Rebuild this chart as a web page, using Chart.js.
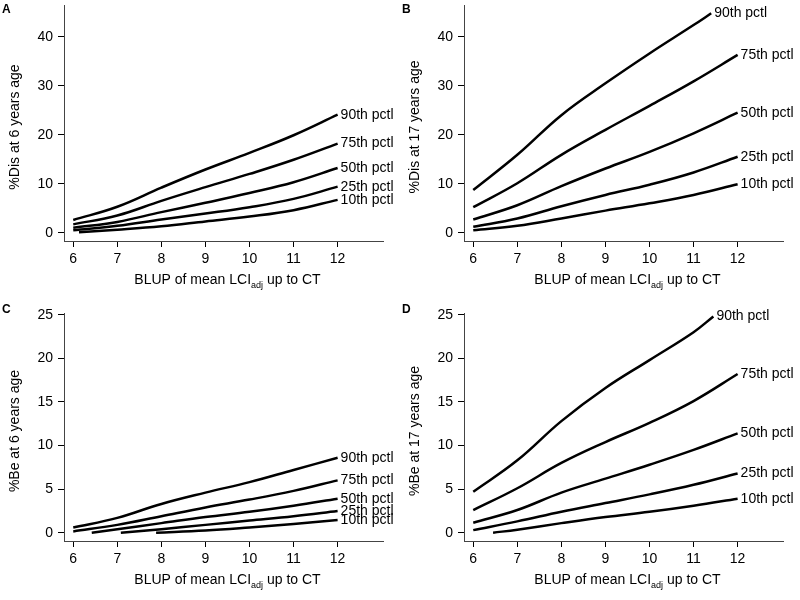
<!DOCTYPE html>
<html>
<head>
<meta charset="utf-8">
<script src="https://cdn.jsdelivr.net/npm/chart.js@4.4.1/dist/chart.umd.min.js"></script>
<style>
  html, body { margin: 0; padding: 0; background: #fff; }
  #wrap { position: relative; width: 800px; height: 600px; }
  #wrap canvas { position: absolute; }
</style>
</head>
<body>
<div id="wrap">
  <canvas id="chartA" width="400" height="300" style="left:0;top:0"></canvas>
  <canvas id="chartB" width="400" height="300" style="left:400px;top:0"></canvas>
  <canvas id="chartC" width="400" height="300" style="left:0;top:300px"></canvas>
  <canvas id="chartD" width="400" height="300" style="left:400px;top:300px"></canvas>
</div>
<script>
    // x positions (BLUP of mean LCI_adj)
    const xGrid = [6, 7, 8, 9, 10, 11, 12];
    const pctlLabels = ['90th pctl', '75th pctl', '50th pctl', '25th pctl', '10th pctl'];
    const xTicks = [6, 7, 8, 9, 10, 11, 12];
    const yTicksDis = [0, 10, 20, 30, 40];
    const yTicksBe = [0, 5, 10, 15, 20, 25];

    // A: %Dis at 6 years age
    const disAge6_p90 = [2.6, 5.3, 9.2, 12.9, 16.3, 19.9, 24.1];
    const disAge6_p75 = [1.7, 3.5, 6.5, 9.3, 12.0, 14.9, 18.2];
    const disAge6_p50 = [1.0, 2.2, 4.2, 6.1, 8.1, 10.3, 13.2];
    const disAge6_p25 = [0.5, 1.4, 2.7, 3.9, 5.2, 6.9, 9.4];
    const disAge6_p10_x = [6.13, 7, 8, 9, 10, 11, 12];
    const disAge6_p10 = [0.1, 0.6, 1.3, 2.3, 3.3, 4.6, 6.7];

    // B: %Dis at 17 years age
    const disAge17_p90_x = [6, 7, 8, 9, 10, 11, 11.4];
    const disAge17_p90 = [8.7, 15.9, 24.0, 30.5, 36.6, 42.4, 44.8];
    const disAge17_p75 = [5.2, 10.1, 15.9, 21.0, 25.9, 30.9, 36.3];
    const disAge17_p50 = [2.7, 5.6, 9.5, 13.1, 16.5, 20.3, 24.5];
    const disAge17_p25 = [1.2, 2.9, 5.4, 7.7, 9.8, 12.3, 15.5];
    const disAge17_p10 = [0.5, 1.4, 2.9, 4.5, 6.0, 7.7, 9.9];

    // C: %Be at 6 years age
    const beAge6_p90 = [0.6, 1.7, 3.3, 4.6, 5.8, 7.2, 8.6];
    const beAge6_p75 = [0.15, 0.9, 1.9, 2.9, 3.8, 4.8, 6.0];
    const beAge6_p50_x = [6.42, 7, 8, 9, 10, 11, 12];
    const beAge6_p50 = [0, 0.4, 1.1, 1.8, 2.4, 3.1, 3.9];
    const beAge6_p25_x = [7.08, 8, 9, 10, 11, 12];
    const beAge6_p25 = [0, 0.4, 0.9, 1.4, 1.9, 2.5];
    const beAge6_p10_x = [7.88, 9, 10, 11, 12];
    const beAge6_p10 = [0, 0.25, 0.6, 1.0, 1.45];

    // D: %Be at 17 years age
    const beAge17_p90_x = [6, 7, 8, 9, 10, 11, 11.45];
    const beAge17_p90 = [4.7, 8.3, 12.8, 16.6, 19.8, 23.0, 24.8];
    const beAge17_p75 = [2.6, 5.1, 8.0, 10.4, 12.6, 15.1, 18.2];
    const beAge17_p50 = [1.15, 2.6, 4.6, 6.2, 7.8, 9.5, 11.4];
    const beAge17_p25 = [0.3, 1.3, 2.4, 3.4, 4.4, 5.5, 6.8];
    const beAge17_p10_x = [6.45, 7, 8, 9, 10, 11, 12];
    const beAge17_p10 = [0, 0.35, 1.1, 1.8, 2.4, 3.1, 3.9];

    const FONT = "'Liberation Sans', Arial, Helvetica, sans-serif";

    function toPoints(xs, ys) {
        return ys.map((y, i) => ({ x: xs[i], y: y }));
    }

    // Draws panel letter, axis titles (with subscript) and percentile labels
    const annotatePlugin = {
        id: 'annotate',
        afterDraw(chart) {
            const ctx = chart.ctx;
            const area = chart.chartArea;
            const opts = chart.options.plugins.annotate;
            ctx.save();
            ctx.fillStyle = '#000';

            // panel letter
            ctx.font = 'bold 12px ' + FONT;
            ctx.textAlign = 'left';
            ctx.textBaseline = 'alphabetic';
            ctx.fillText(opts.letter, 2, 13);

            // percentile labels at line ends
            ctx.font = '14px ' + FONT;
            ctx.textBaseline = 'middle';
            chart.data.datasets.forEach((ds, i) => {
                const pts = chart.getDatasetMeta(i).data;
                const last = pts[pts.length - 1];
                ctx.fillText(ds.label, last.x + 3, last.y);
            });

            // x axis title with subscript
            const part1 = 'BLUP of mean LCI';
            const sub = 'adj';
            const part2 = ' up to CT';
            ctx.font = '14px ' + FONT;
            const w1 = ctx.measureText(part1).width;
            const w3 = ctx.measureText(part2).width;
            ctx.font = '9px ' + FONT;
            const w2 = ctx.measureText(sub).width;
            const total = w1 + w2 + w3;
            let x = (area.left + area.right) / 2 + 4 - total / 2;
            const base = 283.5;
            ctx.textBaseline = 'alphabetic';
            ctx.font = '14px ' + FONT;
            ctx.fillText(part1, x, base);
            ctx.font = '9px ' + FONT;
            ctx.fillText(sub, x + w1, base + 4);
            ctx.font = '14px ' + FONT;
            ctx.fillText(part2, x + w1 + w2, base);

            // y axis title, rotated
            ctx.translate(19, (area.top + area.bottom) / 2 + 4);
            ctx.rotate(-Math.PI / 2);
            ctx.textAlign = 'center';
            ctx.fillText(opts.yTitle, 0, 0);
            ctx.restore();
        }
    };

    function createPanel(canvasId, letter, yTitle, yMin, yMax, yTicks, topPad, series) {
        const ctx = document.getElementById(canvasId).getContext('2d');

        const datasets = series.map((s, i) => ({
            label: pctlLabels[i],
            data: toPoints(s.x, s.y),
            borderColor: '#000',
            borderWidth: 2.5,
            pointRadius: 0,
            fill: false,
            tension: 0.4
        }));

        const config = {
            type: 'line',
            data: { datasets: datasets },
            plugins: [annotatePlugin],
            options: {
                responsive: false,
                animation: false,
                devicePixelRatio: 1,
                layout: {
                    padding: { top: topPad, right: 17, left: 0, bottom: 0 }
                },
                scales: {
                    x: {
                        type: 'linear',
                        min: 5.79,
                        max: 13.03,
                        afterBuildTicks: (scale) => {
                            scale.ticks = xTicks.map(v => ({ value: v }));
                        },
                        afterFit: (scale) => {
                            scale.height = 59;
                            scale.paddingLeft = 0;
                            scale.paddingRight = 0;
                        },
                        grid: {
                            drawOnChartArea: false,
                            tickLength: 6,
                            color: '#000',
                            lineWidth: 1
                        },
                        border: { color: '#444', width: 1 },
                        ticks: {
                            color: '#000',
                            font: { family: FONT, size: 14 },
                            padding: 4,
                            maxRotation: 0,
                            callback: (value) => value
                        }
                    },
                    y: {
                        min: yMin,
                        max: yMax,
                        afterBuildTicks: (scale) => {
                            scale.ticks = yTicks.map(v => ({ value: v }));
                        },
                        afterFit: (scale) => {
                            scale.width = 64;
                            scale.paddingTop = 0;
                            scale.paddingBottom = 0;
                        },
                        grid: {
                            drawOnChartArea: false,
                            tickLength: 6,
                            color: '#000',
                            lineWidth: 1
                        },
                        border: { color: '#444', width: 1 },
                        ticks: {
                            color: '#000',
                            font: { family: FONT, size: 14 },
                            padding: 5,
                            callback: (value) => value
                        }
                    }
                },
                plugins: {
                    legend: { display: false },
                    tooltip: { enabled: false },
                    annotate: { letter: letter, yTitle: yTitle }
                }
            }
        };

        return new Chart(ctx, config);
    }

    createPanel('chartA', 'A', '%Dis at 6 years age', -1.7, 46.5, yTicksDis, 5, [
        { x: xGrid, y: disAge6_p90 },
        { x: xGrid, y: disAge6_p75 },
        { x: xGrid, y: disAge6_p50 },
        { x: xGrid, y: disAge6_p25 },
        { x: disAge6_p10_x, y: disAge6_p10 }
    ]);

    createPanel('chartB', 'B', '%Dis at 17 years age', -1.7, 46.5, yTicksDis, 5, [
        { x: disAge17_p90_x, y: disAge17_p90 },
        { x: xGrid, y: disAge17_p75 },
        { x: xGrid, y: disAge17_p50 },
        { x: xGrid, y: disAge17_p25 },
        { x: xGrid, y: disAge17_p10 }
    ]);

    createPanel('chartC', 'C', '%Be at 6 years age', -0.95, 25.2, yTicksBe, 13, [
        { x: xGrid, y: beAge6_p90 },
        { x: xGrid, y: beAge6_p75 },
        { x: beAge6_p50_x, y: beAge6_p50 },
        { x: beAge6_p25_x, y: beAge6_p25 },
        { x: beAge6_p10_x, y: beAge6_p10 }
    ]);

    createPanel('chartD', 'D', '%Be at 17 years age', -0.95, 25.2, yTicksBe, 13, [
        { x: beAge17_p90_x, y: beAge17_p90 },
        { x: xGrid, y: beAge17_p75 },
        { x: xGrid, y: beAge17_p50 },
        { x: xGrid, y: beAge17_p25 },
        { x: beAge17_p10_x, y: beAge17_p10 }
    ]);
</script>
</body>
</html>
